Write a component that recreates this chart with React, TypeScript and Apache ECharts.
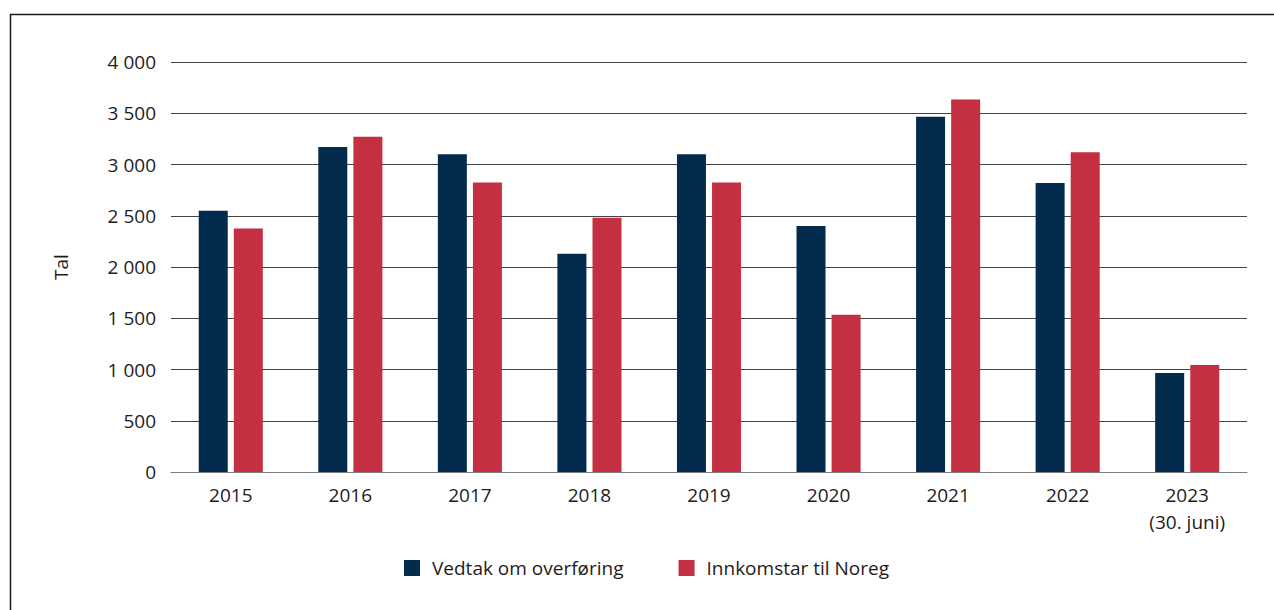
import React, { useEffect, useRef } from "react";
import * as echarts from "echarts";

const categories = ["2015", "2016", "2017", "2018", "2019", "2020", "2021", "2022", "2023\n(30. juni)"];
const vedtak = [2550, 3170, 3100, 2130, 3100, 2400, 3465, 2820, 965];
const innkomstar = [2375, 3270, 2825, 2480, 2825, 1535, 3635, 3120, 1045];
const seriesNames = ["Vedtak om overføring", "Innkomstar til Noreg"];
const yAxisName = "Tal";

const FONT = "'Open Sans', sans-serif";
const TEXT = "#1f1b1c";

export default function App() {
  const ref = useRef<HTMLDivElement>(null);
  useEffect(() => {
    if (!ref.current) return;
    const chart = echarts.init(ref.current, undefined, { renderer: "svg" });
    chart.setOption({
      animation: false,
      textStyle: { fontFamily: FONT },
      graphic: [
        {
          type: "rect",
          shape: { x: 10.5, y: 14.5, width: 1400, height: 800 },
          style: { fill: "none", stroke: "#1a1a1a", lineWidth: 1.5 },
          silent: true,
        },
      ],
      grid: { left: 171, right: 27, top: 62, bottom: 138 },
      legend: {
        left: 404,
        top: 556,
        padding: 0,
        itemWidth: 16,
        itemHeight: 16,
        itemGap: 55,
        icon: "rect",
        textStyle: { fontFamily: FONT, fontSize: 19, color: TEXT, lineHeight: 24, padding: [0, 0, 0, 7] },
        data: seriesNames,
      },
      xAxis: {
        type: "category",
        data: categories,
        axisTick: { show: false },
        axisLine: { lineStyle: { color: "#7a7a7a", width: 1 } },
        axisLabel: { fontFamily: FONT, fontSize: 19, color: TEXT, margin: 9, lineHeight: 27 },
      },
      yAxis: {
        type: "value",
        min: 0,
        max: 4000,
        interval: 500,
        name: yAxisName,
        nameLocation: "middle",
        nameRotate: 90,
        nameGap: 101,
        nameTextStyle: { fontFamily: FONT, fontSize: 19, color: TEXT },
        axisLine: { show: false },
        axisTick: { show: false },
        splitLine: { lineStyle: { color: "#444", width: 1 } },
        axisLabel: {
          fontFamily: FONT,
          fontSize: 19,
          color: TEXT,
          margin: 15,
          formatter: (v: number) => String(v).replace(/\B(?=(\d{3})+(?!\d))/g, " "),
        },
      },
      series: [
        {
          name: seriesNames[0],
          type: "bar",
          data: vedtak,
          barWidth: 29,
          barGap: "21%",
          itemStyle: { color: "#022b4d" },
        },
        {
          name: seriesNames[1],
          type: "bar",
          data: innkomstar,
          barWidth: 29,
          barGap: "21%",
          itemStyle: { color: "#c52f42" },
        },
      ],
    });
    return () => chart.dispose();
  }, []);
  return (
    <div
      ref={ref}
      style={{ position: "fixed", left: 0, top: 0, width: 1274, height: 610, background: "#fff" }}
    />
  );
}
